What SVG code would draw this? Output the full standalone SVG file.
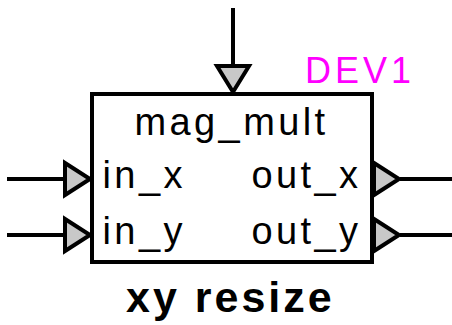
<svg xmlns="http://www.w3.org/2000/svg" width="452" height="325" viewBox="0 0 452 325">
<style>
.w{stroke:#000;stroke-width:4;fill:none}
.p{stroke:#000;stroke-width:4;fill:#c8c8c8;stroke-linejoin:miter}
.t{font-family:"Liberation Sans",Arial,sans-serif;font-size:38px;fill:#000;letter-spacing:3.4px}
</style>
<rect width="452" height="325" fill="#fff"/>
<g id="connectors">
<line class="w" x1="233" y1="8" x2="233" y2="66"/>
<line class="w" x1="7" y1="179" x2="65" y2="179"/>
<line class="w" x1="7" y1="235" x2="65" y2="235"/>
<line class="w" x1="400" y1="179" x2="452" y2="179"/>
<line class="w" x1="400" y1="235" x2="452" y2="235"/>
</g>
<g id="DEV1">
<rect class="w" x="92" y="94" width="280" height="168"/>
<polygon class="p" points="217,66 249,66 233,92"/>
<polygon class="p" points="65,163 65,195 90,179"/>
<polygon class="p" points="65,219 65,251 90,235"/>
<polygon class="p" points="374,163 374,195 399,179"/>
<polygon class="p" points="374,219 374,251 399,235"/>
<text class="t" x="134.5" y="135">mag_mult</text>
<text class="t" x="102.5" y="188">in_x</text>
<text class="t" x="102.5" y="244">in_y</text>
<text class="t" x="251.5" y="188">out_x</text>
<text class="t" x="251.5" y="244">out_y</text>
<text x="305" y="83" font-family="Liberation Sans,Arial,sans-serif" font-size="36" fill="#ff00ff" letter-spacing="4">DEV1</text>
<text x="126" y="312" font-family="Liberation Sans,Arial,sans-serif" font-size="43" font-weight="bold" letter-spacing="3">xy resize</text>
</g>
</svg>
